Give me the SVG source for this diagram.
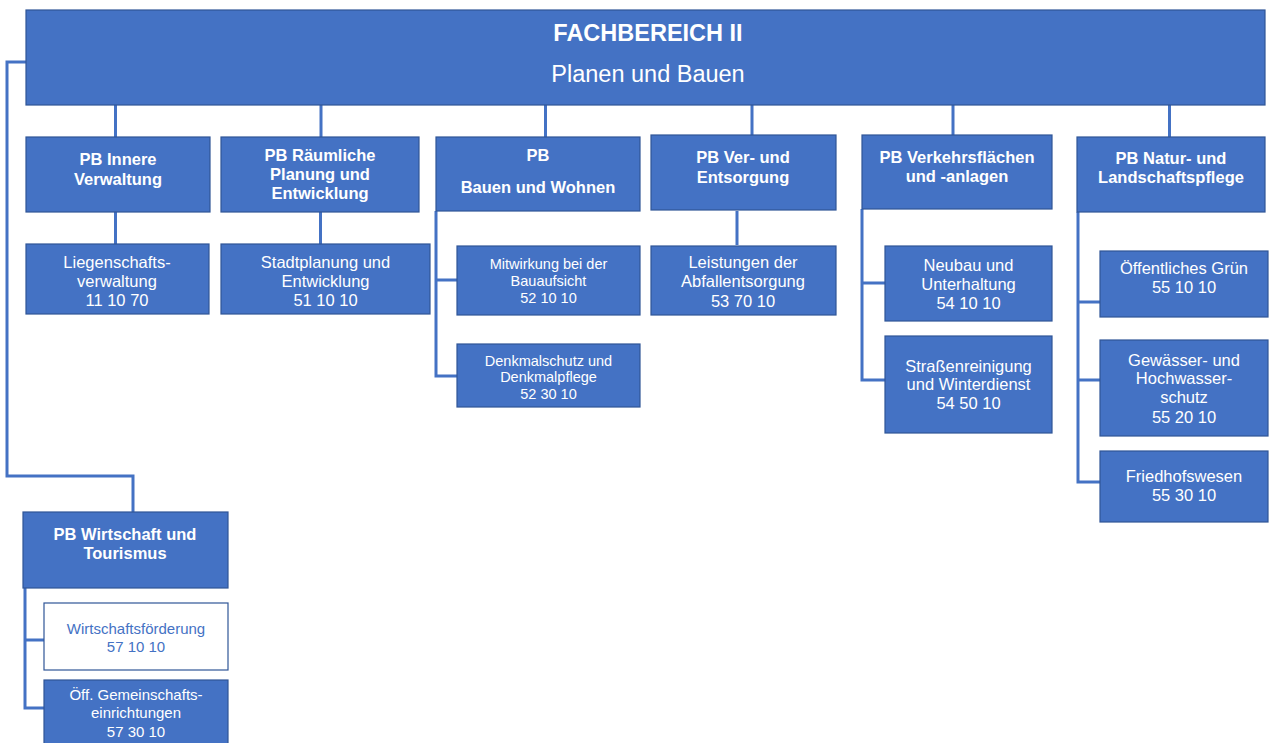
<svg xmlns="http://www.w3.org/2000/svg" width="1270" height="743" viewBox="0 0 1270 743">
<style>
.box{fill:#4472C4;stroke:#2F5597;stroke-width:1.2}
.wbox{fill:#FFFFFF;stroke:#2F5597;stroke-width:1.2}
.ln{fill:none;stroke:#4472C4;stroke-width:3;stroke-linejoin:miter}
text{font-family:"Liberation Sans",Arial,sans-serif;fill:#FFFFFF;text-anchor:middle}
.h{font-size:23.5px}
.b{font-size:16.5px;font-weight:bold}
.r{font-size:16.5px}
.s{font-size:14.5px}
.m{font-size:15px}
.blue{fill:#4472C4}
</style>
<rect width="1270" height="743" fill="#FFFFFF"/>
<g id="connectors">
<path class="ln" d="M26,62 H7 V476 H133 V512"/>
<path class="ln" d="M115.5,105 V137 M321,105 V137 M545.5,105 V137 M752,105 V135 M953,105 V135 M1169.5,105 V137"/>
<path class="ln" d="M115.5,212 V244 M320.5,212 V244 M737,211 V245"/>
<path class="ln" d="M436,211 V376 H457 M436,280 H457"/>
<path class="ln" d="M862,209 V380 H885 M862,283 H885"/>
<path class="ln" d="M1078,212 V482 H1100 M1078,302 H1100 M1078,380 H1100"/>
<path class="ln" d="M25,588 V708 H44 M25,640 H44"/>
</g>
<g id="header">
<rect class="box" x="26" y="10" width="1239" height="95"/>
<text class="h" x="648" y="41" font-weight="bold">FACHBEREICH II</text>
<text class="h" x="648" y="82">Planen und Bauen</text>
</g>
<g id="pb-innere">
<rect class="box" x="26" y="137" width="184" height="75"/>
<text class="b" x="118" y="165">PB Innere</text>
<text class="b" x="118" y="185">Verwaltung</text>
</g>
<g id="pb-raeumliche">
<rect class="box" x="221" y="137" width="198" height="75"/>
<text class="b" x="320" y="161">PB Räumliche</text>
<text class="b" x="320" y="180">Planung und</text>
<text class="b" x="320" y="199">Entwicklung</text>
</g>
<g id="pb-bauen">
<rect class="box" x="436" y="137" width="204" height="74"/>
<text class="b" x="538" y="161">PB</text>
<text class="b" x="538" y="193">Bauen und Wohnen</text>
</g>
<g id="pb-ver">
<rect class="box" x="651" y="135" width="185" height="75"/>
<text class="b" x="743" y="163">PB Ver- und</text>
<text class="b" x="743" y="183">Entsorgung</text>
</g>
<g id="pb-verkehr">
<rect class="box" x="862" y="135" width="190" height="74"/>
<text class="b" x="957" y="163">PB Verkehrsflächen</text>
<text class="b" x="957" y="182">und -anlagen</text>
</g>
<g id="pb-natur">
<rect class="box" x="1077" y="137" width="188" height="75"/>
<text class="b" x="1171" y="164">PB Natur- und</text>
<text class="b" x="1171" y="183">Landschaftspflege</text>
</g>
<g id="liegenschaft">
<rect class="box" x="26" y="244" width="183" height="70"/>
<text class="r" x="117" y="268">Liegenschafts-</text>
<text class="r" x="117" y="287">verwaltung</text>
<text class="r" x="117" y="306">11 10 70</text>
</g>
<g id="stadtplanung">
<rect class="box" x="221" y="244" width="209" height="70"/>
<text class="r" x="325.5" y="268">Stadtplanung und</text>
<text class="r" x="325.5" y="287">Entwicklung</text>
<text class="r" x="325.5" y="306">51 10 10</text>
</g>
<g id="mitwirkung">
<rect class="box" x="457" y="246" width="183" height="69"/>
<text class="s" x="548.5" y="269">Mitwirkung bei der</text>
<text class="s" x="548.5" y="286">Bauaufsicht</text>
<text class="s" x="548.5" y="303">52 10 10</text>
</g>
<g id="denkmal">
<rect class="box" x="457" y="344" width="183" height="63"/>
<text class="s" x="548.5" y="366">Denkmalschutz und</text>
<text class="s" x="548.5" y="382">Denkmalpflege</text>
<text class="s" x="548.5" y="399">52 30 10</text>
</g>
<g id="leistungen">
<rect class="box" x="651" y="246" width="185" height="69"/>
<text class="r" x="743" y="268">Leistungen der</text>
<text class="r" x="743" y="287">Abfallentsorgung</text>
<text class="r" x="743" y="307">53 70 10</text>
</g>
<g id="neubau">
<rect class="box" x="885" y="246" width="167" height="75"/>
<text class="r" x="968.5" y="271">Neubau und</text>
<text class="r" x="968.5" y="290">Unterhaltung</text>
<text class="r" x="968.5" y="309">54 10 10</text>
</g>
<g id="strassen">
<rect class="box" x="885" y="336" width="167" height="97"/>
<text class="r" x="968.5" y="372">Straßenreinigung</text>
<text class="r" x="968.5" y="390">und Winterdienst</text>
<text class="r" x="968.5" y="409">54 50 10</text>
</g>
<g id="gruen">
<rect class="box" x="1100" y="251" width="168" height="66"/>
<text class="r" x="1184" y="274">Öffentliches Grün</text>
<text class="r" x="1184" y="293">55 10 10</text>
</g>
<g id="gewaesser">
<rect class="box" x="1100" y="340" width="168" height="96"/>
<text class="r" x="1184" y="366">Gewässer- und</text>
<text class="r" x="1184" y="384">Hochwasser-</text>
<text class="r" x="1184" y="403">schutz</text>
<text class="r" x="1184" y="423">55 20 10</text>
</g>
<g id="friedhof">
<rect class="box" x="1100" y="451" width="168" height="71"/>
<text class="r" x="1184" y="482">Friedhofswesen</text>
<text class="r" x="1184" y="501">55 30 10</text>
</g>
<g id="pb-wirtschaft">
<rect class="box" x="23" y="512" width="205" height="76"/>
<text class="b" x="125" y="540">PB Wirtschaft und</text>
<text class="b" x="125" y="559">Tourismus</text>
</g>
<g id="wirtschaftsfoerderung">
<rect class="wbox" x="44" y="603" width="184" height="67"/>
<text class="m blue" x="136" y="634">Wirtschaftsförderung</text>
<text class="m blue" x="136" y="652">57 10 10</text>
</g>
<g id="gemeinschaft">
<rect class="box" x="44" y="680" width="184" height="70"/>
<text class="m" x="136" y="700">Öff. Gemeinschafts-</text>
<text class="m" x="136" y="718">einrichtungen</text>
<text class="m" x="136" y="737">57 30 10</text>
</g>
</svg>
